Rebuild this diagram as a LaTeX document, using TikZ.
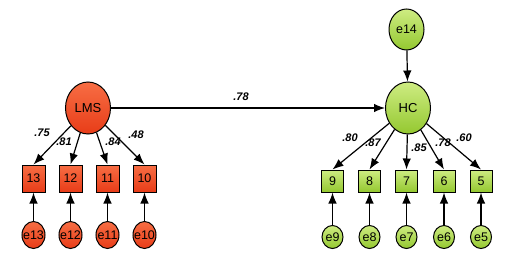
\documentclass[tikz,border=0pt]{standalone}
\usepackage{fontspec}
\setmainfont{Liberation Sans}
\usetikzlibrary{arrows.meta,shapes.geometric}
\definecolor{lmslight}{RGB}{247,110,68}
\definecolor{lmsdark}{RGB}{232,60,24}
\definecolor{hclight}{RGB}{206,236,130}
\definecolor{hcdark}{RGB}{148,200,48}
\newcommand{\ctxt}[1]{\makebox[0pt]{#1}}
\begin{document}
\begin{tikzpicture}[x=1pt,y=-1pt,>={Latex[length=11pt,width=8.5pt]},line width=1.2pt,
 lat/.style={ellipse,draw,line width=1pt,inner sep=0pt,minimum width=45pt,minimum height=52pt,font=\fontsize{13}{15}\selectfont},
 obs/.style={rectangle,draw,line width=1pt,inner sep=0pt,font=\fontsize{12.5}{14}\selectfont},
 err/.style={ellipse,draw,line width=1pt,inner sep=0pt,font=\fontsize{12.5}{14}\selectfont},
 lmscol/.style={top color=lmslight,bottom color=lmsdark},
 hccol/.style={top color=hclight,bottom color=hcdark},
 coef/.style={font=\bfseries\itshape\fontsize{11}{13}\selectfont}]
\useasboundingbox (0,0) rectangle (506,260);
% LMS side
\node[lat,lmscol] (lms) at (88,108) {LMS};
\node[obs,lmscol,minimum width=23pt,minimum height=27pt] (v13) at (33.5,178.5) {13};
\node[obs,lmscol,minimum width=23pt,minimum height=27pt] (v12) at (70.5,178.5) {12};
\node[obs,lmscol,minimum width=23pt,minimum height=27pt] (v11) at (107.5,178.5) {11};
\node[obs,lmscol,minimum width=23pt,minimum height=27pt] (v10) at (144.5,178.5) {10};
\node[err,lmscol,minimum width=23pt,minimum height=27pt] (e13) at (33.5,235) {\ctxt{e13}};
\node[err,lmscol,minimum width=23pt,minimum height=27pt] (e12) at (70.5,235) {\ctxt{e12}};
\node[err,lmscol,minimum width=23pt,minimum height=27pt] (e11) at (107.5,235) {\ctxt{e11}};
\node[err,lmscol,minimum width=23pt,minimum height=27pt] (e10) at (144.5,235) {\ctxt{e10}};
\node[coef] (l13) at (42,133) {.75};
\node[coef] (l12) at (64,142) {.81};
\node[coef] (l11) at (113,142) {.84};
\node[coef] (l10) at (136,135) {.48};
% HC side
\node[lat,hccol] (hc) at (408,108) {HC};
\node[err,hccol,minimum width=35pt,minimum height=41pt] (e14) at (406.5,29.5) {\ctxt{e14}};
\node[obs,hccol,minimum size=22pt] (v9) at (332.5,181) {9};
\node[obs,hccol,minimum size=22pt] (v8) at (369.5,181) {8};
\node[obs,hccol,minimum size=22pt] (v7) at (406.5,181) {7};
\node[obs,hccol,minimum size=22pt] (v6) at (444,181) {6};
\node[obs,hccol,minimum size=22pt] (v5) at (481,181) {5};
\node[err,hccol,minimum width=21pt,minimum height=23pt] (e9) at (332.5,237) {\ctxt{e9}};
\node[err,hccol,minimum width=21pt,minimum height=23pt] (e8) at (369.5,237) {\ctxt{e8}};
\node[err,hccol,minimum width=21pt,minimum height=23pt] (e7) at (406.5,237) {\ctxt{e7}};
\node[err,hccol,minimum width=21pt,minimum height=23pt] (e6) at (444,237) {\ctxt{e6}};
\node[err,hccol,minimum width=21pt,minimum height=23pt] (e5) at (481,237) {\ctxt{e5}};
\node[coef] (l9) at (350,138) {.80};
\node[coef] (l8) at (373,143) {.87};
\node[coef] (l7) at (419,148) {.85};
\node[coef] (l6) at (443,143) {.78};
\node[coef] (l5) at (464,138) {.60};
\node[coef] (lpath) at (241,97) {.78};
\path[->]
 (lms) edge (hc)
 (e14) edge (hc)
 (lms) edge (v13.north)
 (lms) edge (v12.north)
 (lms) edge (v11.north)
 (lms) edge (v10.north)
 (e13) edge (v13)
 (e12) edge (v12)
 (e11) edge (v11)
 (e10) edge (v10)
 (hc) edge (v9.north)
 (hc) edge (v8.north)
 (hc) edge (v7.north)
 (hc) edge (v6.north)
 (hc) edge (v5.north)
 (e9) edge (v9)
 (e8) edge (v8)
 (e7) edge (v7)
 (e6) edge (v6)
 (e5) edge (v5);
\end{tikzpicture}
\end{document}
